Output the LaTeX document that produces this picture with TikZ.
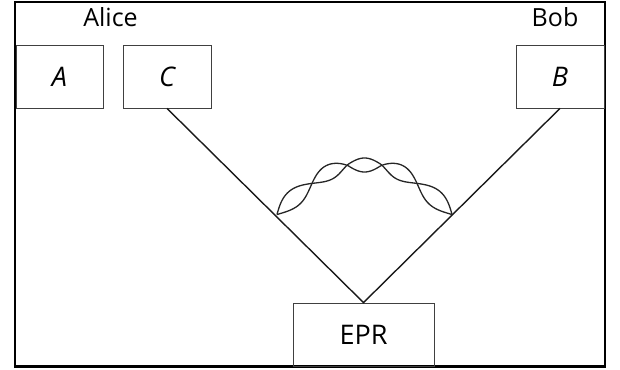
\documentclass[tikz,border=0pt]{standalone}
\usepackage{fontspec}
\setmainfont{Open Sans}
\begin{document}
\begin{tikzpicture}[x=1pt,y=-1pt,
  box/.style={draw=black!75,line width=0.8pt,minimum height=63pt,inner sep=0pt,font=\fontsize{27}{30}\selectfont},
  lbl/.style={font=\fontsize{25}{30}\selectfont,inner sep=0pt,anchor=base},
  conn/.style={draw=black!90,line width=1.4pt},
  wave/.style={draw=black!85,line width=1.3pt},
  declare function={
    dd(\t)=175*\t-87.5;
    uu(\t)=max(abs(dd(\t))-15,0)/72;
    by(\t)=165+49*uu(\t)*sqrt(uu(\t));
    mm(\t)=49*1.5*sqrt(uu(\t))/72*dd(\t)/(abs(dd(\t))+0.001);
    nn(\t)=sqrt(1+mm(\t)*mm(\t));
    aa(\t)=(7+2*(2*\t-1)*(2*\t-1))*sin(900*\t);
  }]
\useasboundingbox (0,0) rectangle (620,369);
\draw[line width=2.4pt,line cap=rect] (15,2) rectangle (605,366.5);
\node[box,minimum width=87pt] (A) at (59.5,76.5) {\itshape A};
\node[box,minimum width=88pt] (C) at (167,76.5) {\itshape C};
\node[box,minimum width=88pt] (B) at (560,76.5) {\itshape B};
\node[box,minimum width=141pt] (EPR) at (363.5,334.5) {EPR};
\node[lbl] (alice) at (110.5,27) {Alice};
\node[lbl] (bob) at (555,27) {Bob};
\draw[conn] (C.south) -- (EPR.north) -- (B.south);
\foreach \s in {1,-1}{
\draw[wave] plot[variable=\t,domain=0:1,samples=240,smooth]
 ({364.5 + dd(\t) - \s*aa(\t)*mm(\t)/nn(\t)},
  {by(\t) + \s*aa(\t)/nn(\t)});
}
\end{tikzpicture}
\end{document}
